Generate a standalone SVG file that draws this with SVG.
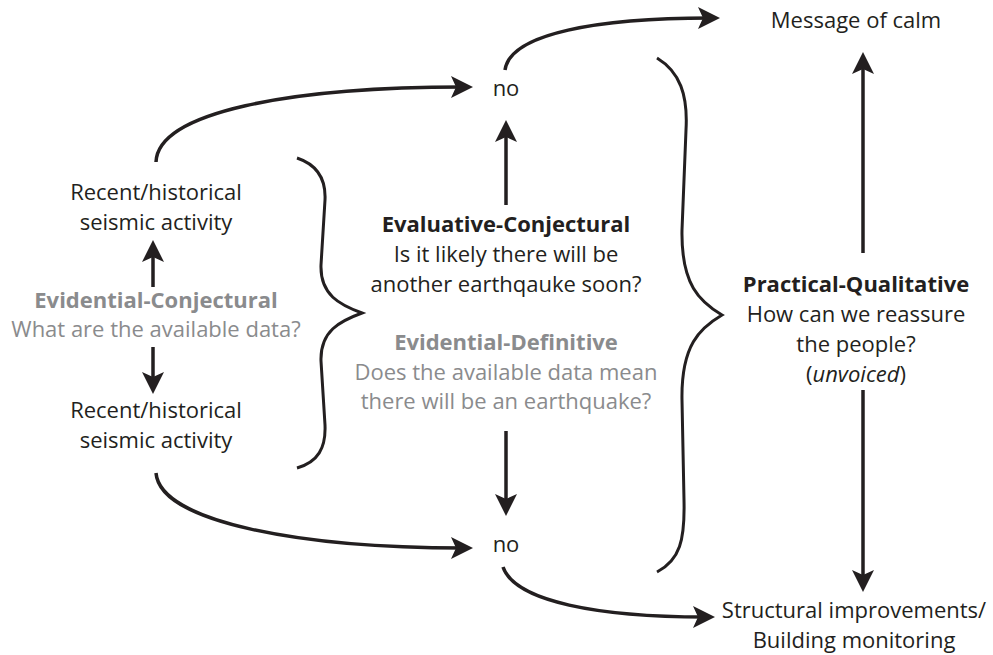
<svg xmlns="http://www.w3.org/2000/svg" width="993" height="655" viewBox="0 0 993 655">
  <style>
    text { font-family: "Open Sans", "Liberation Sans", sans-serif; font-size: 22px; fill: #231f20; text-anchor: middle; }
    .b { font-weight: bold; }
    .g { fill: #8a8b8d; }
    .conn { fill: none; stroke: #231f20; stroke-width: 3.5; }
    .brace { fill: none; stroke: #231f20; stroke-width: 3; stroke-linejoin: miter; }
  </style>
  <defs>
    <marker id="arrow" markerUnits="userSpaceOnUse" viewBox="0 0 22 22" markerWidth="22" markerHeight="22" refX="12" refY="11" orient="auto">
      <path d="M0,0 L22,11 L0,22 L5,11 z" fill="#231f20"/>
    </marker>
  </defs>
  <rect width="993" height="655" fill="#ffffff"/>

  <g id="connectors">
    <path class="conn" d="M156,162 C158,112 290,87 463,87" marker-end="url(#arrow)"/>
    <path class="conn" d="M156,473 C160,522 300,548 463,548" marker-end="url(#arrow)"/>
    <path class="conn" d="M505,70 C510,33 600,18 710,18" marker-end="url(#arrow)"/>
    <path class="conn" d="M503,567 C515,602 600,617 705,617" marker-end="url(#arrow)"/>
    <path class="conn" d="M153,287 L153,250" marker-end="url(#arrow)"/>
    <path class="conn" d="M153,347 L153,384" marker-end="url(#arrow)"/>
    <path class="conn" d="M506,205 L506,130" marker-end="url(#arrow)"/>
    <path class="conn" d="M506,431 L506,506" marker-end="url(#arrow)"/>
    <path class="conn" d="M863,253 L863,62" marker-end="url(#arrow)"/>
    <path class="conn" d="M863,390 L863,582" marker-end="url(#arrow)"/>
  </g>

  <g id="braces">
    <path class="brace" d="M297,158 C318,165 326,180 325,200 L321,265 C320,295 340,305 362,313 C340,321 320,331 321,361 L325,425 C326,448 318,462 297,468"/>
    <path class="brace" d="M657,58 C680,72 688,95 686,130 L682,230 C681,285 700,302 722,315 C700,328 681,345 682,400 L684,500 C685,540 680,560 657,572"/>
  </g>

  <g id="activity-top">
    <text x="156" y="200">Recent/historical</text>
    <text x="156" y="230">seismic activity</text>
  </g>
  <g id="evidential-conjectural">
    <text class="b g" x="156" y="308">Evidential-Conjectural</text>
    <text class="g" x="156" y="337">What are the available data?</text>
  </g>
  <g id="activity-bottom">
    <text x="156" y="418">Recent/historical</text>
    <text x="156" y="448">seismic activity</text>
  </g>
  <g id="no-top">
    <text x="506" y="96">no</text>
  </g>
  <g id="evaluative-conjectural">
    <text class="b" x="506" y="232">Evaluative-Conjectural</text>
    <text x="506" y="262">Is it likely there will be</text>
    <text x="506" y="292">another earthqauke soon?</text>
  </g>
  <g id="evidential-definitive">
    <text class="b g" x="506" y="350">Evidential-Definitive</text>
    <text class="g" x="506" y="380">Does the available data mean</text>
    <text class="g" x="506" y="409">there will be an earthquake?</text>
  </g>
  <g id="no-bottom">
    <text x="506" y="552">no</text>
  </g>
  <g id="message-of-calm">
    <text x="856" y="28">Message of calm</text>
  </g>
  <g id="practical-qualitative">
    <text class="b" x="856" y="292">Practical-Qualitative</text>
    <text x="856" y="322">How can we reassure</text>
    <text x="856" y="352">the people?</text>
    <text x="856" y="382">(<tspan font-style="italic">unvoiced</tspan>)</text>
  </g>
  <g id="structural">
    <text x="854" y="618">Structural improvements/</text>
    <text x="854" y="648">Building monitoring</text>
  </g>
</svg>
